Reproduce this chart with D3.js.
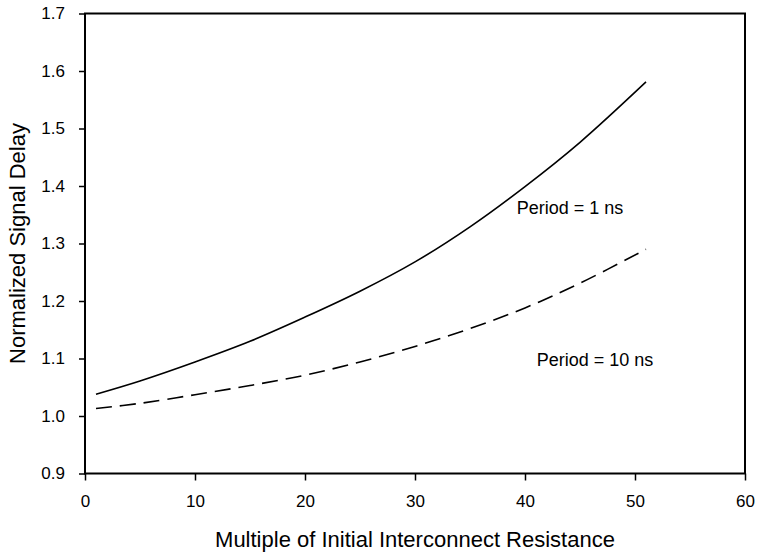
<!DOCTYPE html>
<html>
<head>
<meta charset="utf-8">
<script src="https://cdn.jsdelivr.net/npm/d3@7"></script>
<style>
  body { margin: 0; background: #fff; }
  text { font-family: "Liberation Sans", Arial, sans-serif; fill: #000; }
</style>
</head>
<body>
<div id="chart"></div>
<script>
// Data
var resistance = [1, 5, 10, 15, 20, 25, 30, 35, 40, 45, 51];
var delay1ns  = [1.038, 1.061, 1.094, 1.130, 1.172, 1.217, 1.268, 1.329, 1.399, 1.476, 1.581];
var delay10ns = [1.013, 1.022, 1.037, 1.053, 1.071, 1.094, 1.121, 1.152, 1.188, 1.231, 1.290];
var xTicks = [0, 10, 20, 30, 40, 50, 60];
var yTicks = [0.9, 1.0, 1.1, 1.2, 1.3, 1.4, 1.5, 1.6, 1.7];
// annotation text and where it sits, in data units
var labels = [
    {text: "Period = 1 ns", x: 39.25, y: 1.351},
    {text: "Period = 10 ns", x: 41.06, y: 1.087}
];

var width = 757, height = 553;
var margin = {top: 13.5, right: 12, bottom: 79.5, left: 85};
var w = width - margin.left - margin.right;
var h = height - margin.top - margin.bottom;

var svg = d3.select("#chart").append("svg")
    .attr("width", width).attr("height", height);
var g = svg.append("g").attr("transform", "translate(" + margin.left + "," + margin.top + ")");

var x = d3.scaleLinear().domain([0, 60]).range([0, w]);
var y = d3.scaleLinear().domain([0.9, 1.7]).range([h, 0]);

//Axes with outward ticks
var xAxis = g.append("g").attr("transform", "translate(0," + h + ")")
    .call(d3.axisBottom(x).tickValues(xTicks).tickSize(7).tickPadding(14).tickFormat(d3.format("d")));
var yAxis = g.append("g")
    .call(d3.axisLeft(y).tickValues(yTicks).tickSize(6).tickPadding(14).tickFormat(d3.format(".1f")));

[xAxis, yAxis].forEach(function (a) {
    a.select(".domain").remove();
    a.selectAll("line").attr("stroke", "#000").attr("stroke-width", 1.5);
    a.selectAll("text").style("font-size", "17px").attr("fill", "#000");
});

//Frame around the plot
g.append("rect").attr("x", 0).attr("y", 0).attr("width", w).attr("height", h)
    .attr("fill", "none").attr("stroke", "#000").attr("stroke-width", 2);

var line = d3.line()
    .x(function (d) { return x(d[0]); })
    .y(function (d) { return y(d[1]); })
    .curve(d3.curveCatmullRom);

g.append("path").datum(d3.zip(resistance, delay1ns))
    .attr("d", line).attr("fill", "none").attr("stroke", "#000").attr("stroke-width", 1.6);
g.append("path").datum(d3.zip(resistance, delay10ns))
    .attr("d", line).attr("fill", "none").attr("stroke", "#000").attr("stroke-width", 1.6)
    .attr("stroke-dasharray", "16,8");

g.selectAll(".note").data(labels).enter().append("text")
    .attr("class", "note")
    .attr("x", function (d) { return x(d.x); })
    .attr("y", function (d) { return y(d.y); })
    .style("font-size", "18px")
    .text(function (d) { return d.text; });

//Axis titles
svg.append("text")
    .attr("x", margin.left + w / 2).attr("y", 546.5)
    .attr("text-anchor", "middle").style("font-size", "22px")
    .text("Multiple of Initial Interconnect Resistance");
svg.append("text")
    .attr("transform", "translate(25," + (margin.top + h / 2) + ") rotate(-90)")
    .attr("text-anchor", "middle").style("font-size", "22px")
    .text("Normalized Signal Delay");
</script>
</body>
</html>
